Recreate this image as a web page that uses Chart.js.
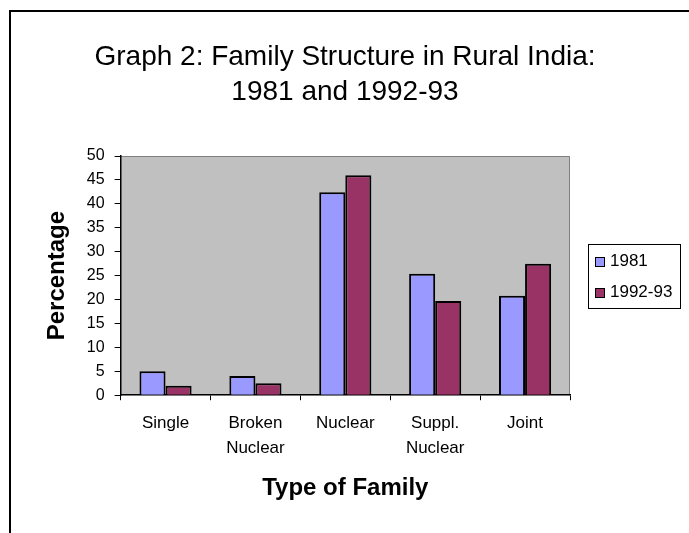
<!DOCTYPE html>
<html>
<head>
<meta charset="utf-8">
<script src="https://cdn.jsdelivr.net/npm/chart.js@4/dist/chart.umd.min.js"></script>
<style>
  html, body { margin: 0; padding: 0; background: #fff; }
  #frame { position: absolute; left: 9px; top: 10px; width: 700px; height: 540px;
           border-left: 2px solid #000; border-top: 2px solid #000; }
  #wrap { position: absolute; left: 0; top: 0; width: 689px; height: 533px; }
</style>
</head>
<body>
<div id="frame"></div>
<div id="wrap"><canvas id="chart"></canvas></div>
<script>
const categories = [["Single"], ["Broken", "Nuclear"], ["Nuclear"], ["Suppl.", "Nuclear"], ["Joint"]]
const values1981 = [5, 4, 42.4, 25.4, 20.8]
const values1992 = [2, 2.5, 46, 19.7, 27.5]
const yTicks = [0, 5, 10, 15, 20, 25, 30, 35, 40, 45, 50]

const FONT = "'Liberation Sans', Arial, sans-serif"
Chart.defaults.font.family = FONT
Chart.defaults.color = "#000"

// gray plot area with a thin border, plus the boxed legend on the right
const plotArea = {
  id: "plotArea",
  beforeDraw(chart) {
    const { ctx, chartArea: a } = chart
    ctx.save()
    ctx.fillStyle = "#C0C0C0"
    ctx.fillRect(a.left, a.top, a.right - a.left, a.bottom - a.top)
    ctx.strokeStyle = "#808080"
    ctx.lineWidth = 1
    ctx.beginPath()
    ctx.moveTo(a.left, a.top + 0.5)
    ctx.lineTo(a.right - 0.5, a.top + 0.5)
    ctx.lineTo(a.right - 0.5, a.bottom)
    ctx.stroke()
    ctx.restore()
  },
  afterDraw(chart) {
    const { ctx, chartArea: a } = chart
    const sets = chart.data.datasets
    const left = a.right + 18
    const width = 92
    const rowH = 31
    const height = sets.length * rowH + 2
    const top = Math.round((a.top + a.bottom) / 2 - height / 2)
    ctx.save()
    ctx.strokeStyle = "#000"
    ctx.lineWidth = 1
    ctx.strokeRect(left + 0.5, top + 0.5, width, height)
    ctx.font = "17px " + FONT
    ctx.textBaseline = "middle"
    ctx.textAlign = "left"
    sets.forEach((ds, i) => {
      const cy = top + 17 + i * rowH
      ctx.fillStyle = ds.backgroundColor
      ctx.fillRect(left + 7, cy - 4, 9, 9)
      ctx.strokeRect(left + 7.5, cy - 3.5, 9, 9)
      ctx.fillStyle = "#000"
      ctx.fillText(ds.label, left + 22, cy)
    })
    ctx.restore()
  }
}

new Chart(document.getElementById("chart"), {
  type: "bar",
  data: {
    labels: categories,
    datasets: [{
      label: "1981",
      data: values1981,
      backgroundColor: "#9999FF",
      borderColor: "#000",
      borderWidth: 2,
      categoryPercentage: 0.58,
      barPercentage: 1.0
    }, {
      label: "1992-93",
      data: values1992,
      backgroundColor: "#993366",
      borderColor: "#000",
      borderWidth: 2,
      categoryPercentage: 0.58,
      barPercentage: 1.0
    }]
  },
  options: {
    responsive: true,
    maintainAspectRatio: false,
    animation: false,
    layout: { padding: { left: 10, right: 9, top: 0, bottom: 30 } },
    plugins: {
      title: {
        display: true,
        text: ["Graph 2: Family Structure in Rural India:", "1981 and 1992-93"],
        font: { size: 28, weight: "normal", lineHeight: 1.25 },
        color: "#000",
        padding: { top: 40, bottom: 46 }
      },
      legend: { display: false },
      tooltip: { enabled: false }
    },
    scales: {
      x: {
        grid: { offset: true, drawOnChartArea: false, tickLength: 5, color: "#000", lineWidth: 1 },
        border: { color: "#000", width: 1.5 },
        ticks: { font: { size: 17, lineHeight: 1.47 }, padding: 11, maxRotation: 0, autoSkip: false },
        title: {
          display: true,
          text: "Type of Family",
          font: { size: 24, weight: "bold" },
          padding: { top: 2, bottom: 0 }
        }
      },
      y: {
        min: 0,
        max: 50,
        afterBuildTicks(axis) { axis.ticks = yTicks.map(v => ({ value: v })) },
        grid: { drawOnChartArea: false, tickLength: 6, color: "#000", lineWidth: 1 },
        border: { color: "#000", width: 1.5 },
        ticks: { font: { size: 16 }, padding: 10 },
        title: {
          display: true,
          text: "Percentage",
          font: { size: 24, weight: "bold" },
          padding: { top: 33, bottom: 5 }
        }
      },
      // empty right-hand axis that only reserves room for the legend
      legendRoom: {
        type: "linear",
        position: "right",
        grid: { display: false },
        border: { display: false },
        ticks: { display: false },
        afterFit(axis) { axis.width = 110 }
      }
    }
  },
  plugins: [plotArea]
})
</script>
</body>
</html>
